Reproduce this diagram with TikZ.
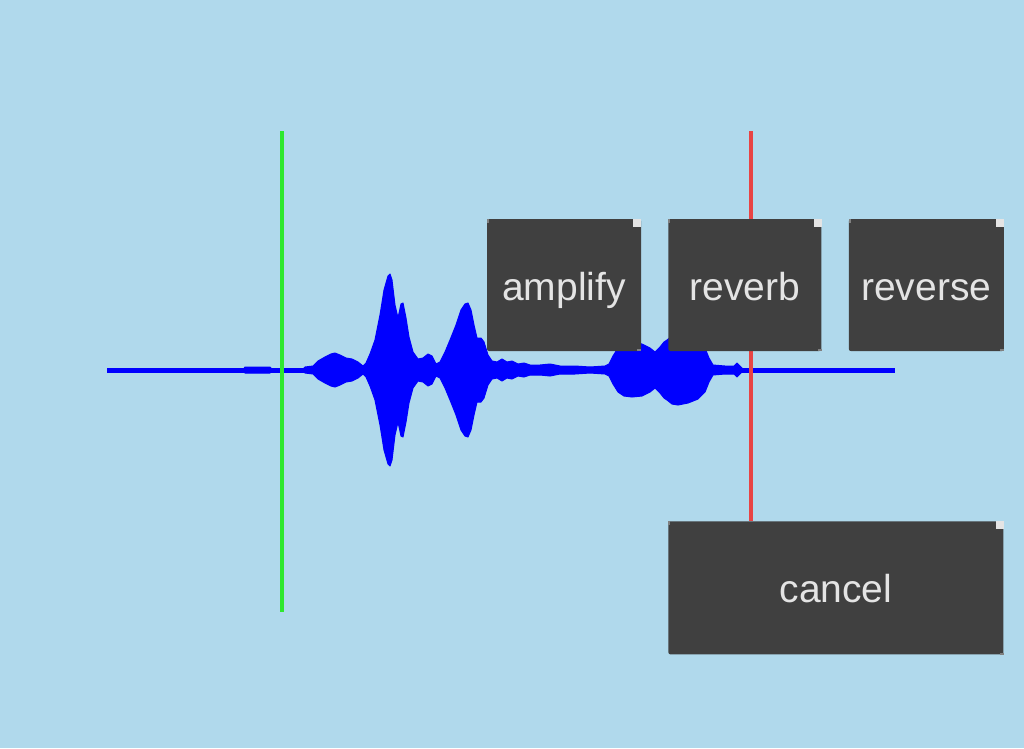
\documentclass[tikz,border=0pt]{standalone}
\usepackage{fontspec}
\setmainfont{Liberation Sans}
\usetikzlibrary{positioning}
\definecolor{screen-blue}{HTML}{B0D9EC}
\definecolor{button-grey}{HTML}{404040}
\definecolor{label-grey}{HTML}{E4E4E4}
\definecolor{marker-green}{HTML}{2EE82E}
\definecolor{marker-red}{HTML}{E84444}
\colorlet{wave}{blue}
% envelope of the sound, half above the baseline
\newcommand{\waveenv}{%
(243,0) -- (245,3) -- (270,3) -- (273,0) -- (302,0) -- (305,3) -- (313,4) -- (318,9) -- (325,13) -- (331,16) -- (335,17) -- (340,15) -- (346,12) -- (352,11) -- (358,8) -- (363,4) -- (366,7) -- (370,16) -- (375,30) -- (380,55) -- (384,80) -- (388,94) -- (390,96) -- (392,90) -- (395,65) -- (398,52) -- (401,66) -- (403,67) -- (406,52) -- (409,33) -- (413,18) -- (418,11) -- (423,12) -- (428,16) -- (432,14) -- (436,6) -- (440,8) -- (445,18) -- (450,30) -- (456,45) -- (461,60) -- (465,66) -- (468,67) -- (471,60) -- (474,45) -- (477,32) -- (481,32) -- (484,28) -- (488,15) -- (492,9) -- (497,8) -- (502,11) -- (507,8) -- (512,9) -- (518,6) -- (524,7) -- (530,5) -- (540,5) -- (550,6) -- (560,4) -- (575,4) -- (590,3) -- (605,4) -- (609,6) -- (613,14) -- (618,22) -- (624,26) -- (632,27) -- (642,26) -- (650,22) -- (655,18) -- (660,23) -- (664,28) -- (667,30) -- (672,34) -- (678,35) -- (688,33) -- (698,29) -- (705,22) -- (709,12) -- (713,5) -- (725,4) -- (734,4) -- (737,7) -- (740,4) -- (744,0) -- cycle}
\newcommand{\tikzbuttoncorners}[1]{%
\fill[label-grey] ([xshift=-8pt]#1.north east) rectangle ([yshift=-8pt]#1.north east);
\fill[gray] ([xshift=-4pt]#1.south east) rectangle ([yshift=2pt]#1.south east);
\fill[gray] (#1.north west) rectangle ([xshift=2pt,yshift=-4pt]#1.north west);
}

\begin{document}
\begin{tikzpicture}[x=1pt, y=-1pt,
  button/.style={fill=button-grey, text=label-grey, rounded corners=2pt, inner sep=0pt,
    minimum width=154pt, minimum height=132pt, text height=30pt, text depth=0pt,
    font=\fontsize{39}{47}\selectfont},
  marker/.style={line width=4pt}]
\fill[screen-blue] (0,0) rectangle (1024,748);
% sound wave
\draw[wave, line width=5pt] (107,370) -- (895,370);
\foreach \side in {1,-1} {
  \begin{scope}[shift={(0,370)}, yscale=\side]
  \fill[wave, draw=wave, line width=1pt, line join=round] \waveenv;
  \end{scope}
}
% start and end markers
\coordinate (start top) at (282,131);
\coordinate (start bottom) at (282,612);
\coordinate (end top) at (751,131);
\coordinate (end bottom) at (751,521);
\draw[marker, marker-green] (start top) -- (start bottom);
\draw[marker, marker-red] (end top) -- (end bottom);
% buttons
\node[button] (amplify) at (564,285) {amplify};
\node[button, right=27pt of amplify, minimum width=153pt] (reverb) {reverb};
\node[button, right=27pt of reverb, minimum width=155pt] (reverse) {reverse};
\node[button, below=170pt of reverb.south west, anchor=north west, minimum width=335pt, minimum height=133pt] (cancel) {cancel};
\foreach \b in {amplify,reverb,reverse,cancel} {\tikzbuttoncorners{\b}}
\end{tikzpicture}
\end{document}
